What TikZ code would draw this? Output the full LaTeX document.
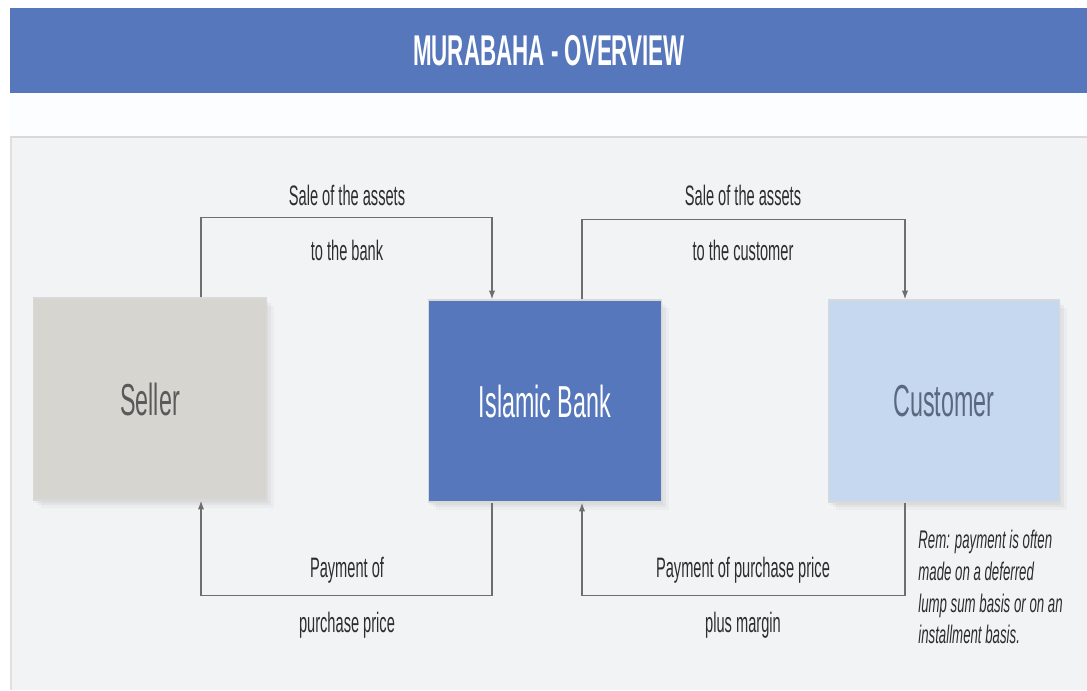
\documentclass[tikz,border=0pt]{standalone}
\usepackage{fontspec}
\setmainfont{Liberation Sans}[FakeStretch=0.52]
\usetikzlibrary{calc,shadows,arrows.meta}
\definecolor{barblue}{RGB}{86,119,188}
\definecolor{sellergray}{RGB}{215,213,207}
\definecolor{custblue}{RGB}{197,216,240}
\definecolor{panelgray}{RGB}{242,243,245}
\definecolor{bandwhite}{RGB}{251,253,254}
\definecolor{linegray}{RGB}{110,110,110}
\definecolor{txtgray}{RGB}{45,45,45}
\tikzset{
	party/.style={minimum width=4.66cm, minimum height=4.04cm, inner sep=0pt,
		draw=white!85!black, line width=0.8pt,
		drop shadow={opacity=0.07, shadow xshift=1pt, shadow yshift=-1.5pt},
		drop shadow={opacity=0.07, shadow xshift=2.5pt, shadow yshift=-3pt},
		drop shadow={opacity=0.06, shadow xshift=4pt, shadow yshift=-4.5pt},
		font=\fontsize{25.5}{28}\selectfont},
	flow/.style={draw=linegray, line width=0.7pt, -{Latex[length=5pt,width=3.6pt]}},
	lbl/.style={text=txtgray, inner sep=0pt, font=\fontsize{16}{18}\selectfont}
}
\begin{document}
\begin{tikzpicture}[x=0.02cm, y=-0.02cm]
	\useasboundingbox (0,0) rectangle (1087,690);
	\fill[white] (0,0) rectangle (1087,690);
	% header and panel
	\fill[barblue] (10,8) rectangle (1087,93);
	\fill[bandwhite] (10,93) rectangle (1087,137);
	\fill[panelgray] (10,137) rectangle (1087,690);
	\draw[black!15, line width=1pt] (10,137) -- (1087,137);
	\draw[black!12, line width=1.2pt] (11,137) -- (11,690);
	\node[text=white, font=\bfseries\fontsize{24.5}{28}\selectfont] (title) at (549,51) {MURABAHA - OVERVIEW};
	% parties
	\node[party, fill=sellergray, text=black!65] (seller) at (150,399) {Seller};
	\node[party, fill=barblue, text=white] (bank) at (545,401) {Islamic Bank};
	\node[party, fill=custblue, text={rgb,255:red,90;green,105;blue,128}, minimum width=4.62cm] (customer) at (944,401) {Customer};
	% flows of assets
	\draw[flow] ($(seller.north)+(51,0)$) -- ++(0,-80) -| ($(bank.north)+(-53,0)$);
	\draw[flow] ($(bank.north)+(37,0)$) -- ++(0,-80) -| ($(customer.north)+(-39,0)$);
	% flows of payment
	\draw[flow] ($(bank.south)+(-53,0)$) -- ++(0,93) -| ($(seller.south)+(51,0)$);
	\draw[flow] ($(customer.south)+(-39,0)$) -- ++(0,93) -| ($(bank.south)+(37,0)$);
	% labels
	\node[lbl] (sale1a) at (347,195) {Sale of the assets};
	\node[lbl] (sale1b) at (347,250) {to the bank};
	\node[lbl] (sale2a) at (743,195) {Sale of the assets};
	\node[lbl] (sale2b) at (743,250) {to the customer};
	\node[lbl] (pay1a) at (347,570) {Payment of};
	\node[lbl] (pay1b) at (347,625) {purchase price};
	\node[lbl] (pay2a) at (743,570) {Payment of purchase price};
	\node[lbl] (pay2b) at (743,625) {plus margin};
	\node[lbl, anchor=north west, align=left, font=\itshape\fontsize{14.5}{18}\selectfont] (rem) at (918,530)
		{Rem: payment is often\\made on a deferred\\lump sum basis or on an\\installment basis.};
\end{tikzpicture}
\end{document}
